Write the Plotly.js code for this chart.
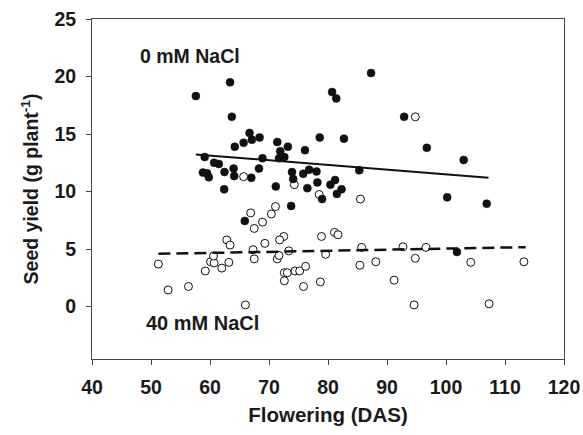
<!DOCTYPE html>
<html>
<head>
<meta charset="utf-8">
<script src="https://cdn.plot.ly/plotly-3.0.1.min.js"></script>
<style>html,body{margin:0;padding:0;background:#fff;}#chart{width:583px;height:435px;}</style>
</head>
<body>
<div id="chart"></div>
<script>
// 0 mM NaCl (filled circles)
const ctrlDAS = [57.6,63.4,63.7,66.7,65.7,67.1,64.2,68.4,59.1,60.7,61.5,64.0,68.3,58.8,59.5,59.8,62.45,64.1,67.0,62.4,
  87.3,80.7,81.4,92.9,71.4,73.2,71.9,76.1,78.6,82.7,68.9,71.7,72.6,73.9,74.1,75.8,76.8,78.05,85.3,71.15,
  76.5,78.2,80.4,81.2,81.5,82.3,79.0,73.75,96.75,103.0,100.2,106.9,65.9,101.85];
const ctrlYield = [18.3,19.5,16.5,15.1,14.25,14.5,13.9,14.7,13.0,12.5,12.4,12.0,12.0,11.65,11.6,11.25,11.7,11.35,11.2,10.2,
  20.3,18.65,18.1,16.5,14.3,13.9,13.5,13.6,14.7,14.6,12.9,12.9,13.0,11.7,11.1,11.55,11.9,11.75,11.85,10.45,
  10.3,10.8,10.6,11.0,9.8,10.2,9.35,8.75,13.8,12.75,9.5,8.95,7.45,4.75];

// 40 mM NaCl (open circles)
const saltDAS = [65.7,94.8,74.3,78.5,85.5,71.1,51.25,52.9,56.35,59.2,60.1,60.7,60.6,62.0,63.2,62.85,63.4,66.0,66.9,67.5,
  67.3,67.5,70.4,68.9,72.5,71.8,69.3,78.9,81.1,81.7,71.4,71.7,73.35,79.6,85.7,85.4,88.1,92.7,94.8,72.6,
  73.1,74.4,75.2,76.2,72.6,75.85,78.7,91.2,94.6,96.6,104.2,113.2,107.3];
const saltYield = [11.3,16.5,10.6,9.75,9.35,8.7,3.7,1.45,1.75,3.1,3.9,3.8,4.4,3.35,3.85,5.8,5.35,0.15,8.15,6.8,
  4.95,4.15,8.05,7.35,6.1,5.8,5.5,6.1,6.45,6.25,4.15,4.45,4.85,4.55,5.15,3.6,3.9,5.2,4.2,2.95,
  2.95,3.1,3.1,3.5,2.25,1.75,2.15,2.3,0.15,5.15,3.85,3.9,0.25];

// Regression lines (endpoints)
const ctrlFitX = [57.6, 107.2];
const ctrlFitY = [13.23, 11.2];
const saltFitX = [51.25, 113.5];
const saltFitY = [4.59, 5.17];

const xTicks = [40,50,60,70,80,90,100,110,120];
const yTicks = [0,5,10,15,20,25];

const txt = '#1a1a1a';
const axisCol = '#444';
const fnt = 'Liberation Sans, Arial, sans-serif';

const traces = [
  {x: saltDAS, y: saltYield, type: 'scatter', mode: 'markers',
   marker: {symbol: 'circle', size: 8, color: '#ffffff', line: {color: '#111', width: 1}}, hoverinfo: 'skip'},
  {x: ctrlDAS, y: ctrlYield, type: 'scatter', mode: 'markers',
   marker: {symbol: 'circle', size: 8, color: '#111', line: {color: '#111', width: 0.5}}, hoverinfo: 'skip'},
  {x: ctrlFitX, y: ctrlFitY, type: 'scatter', mode: 'lines',
   line: {color: '#111', width: 2}, hoverinfo: 'skip'},
  {x: saltFitX, y: saltFitY, type: 'scatter', mode: 'lines',
   line: {color: '#111', width: 2.5, dash: '12px,6px'}, hoverinfo: 'skip'}
];

const layout = {
  width: 583, height: 435,
  margin: {l: 92, r: 19, t: 19, b: 76},
  paper_bgcolor: '#fff', plot_bgcolor: '#fff',
  showlegend: false,
  font: {family: fnt, color: txt},
  xaxis: {
    range: [40, 120], tickvals: xTicks, ticktext: xTicks.map(v => '<b>' + v + '</b>'),
    ticks: 'outside', ticklen: 5, tickwidth: 1, tickcolor: axisCol,
    showline: true, linecolor: axisCol, linewidth: 1, mirror: true,
    showgrid: false, zeroline: false,
    tickfont: {family: fnt, size: 19.5, color: txt},
    ticklabelstandoff: 6,
    title: {text: '<b>Flowering (DAS)</b>', font: {family: fnt, size: 20.5, color: txt}, standoff: 10}
  },
  yaxis: {
    range: [-4.55, 25], tickvals: yTicks, ticktext: yTicks.map(v => '<b>' + v + '</b>'),
    ticks: 'outside', ticklen: 5, tickwidth: 1, tickcolor: axisCol,
    showline: true, linecolor: axisCol, linewidth: 1, mirror: true,
    showgrid: false, zeroline: false,
    tickfont: {family: fnt, size: 19.5, color: txt},
    ticklabelstandoff: 6,
    title: {text: '<b>Seed yield (g plant<sup>-1</sup>)</b>', font: {family: fnt, size: 19.5, color: txt}, standoff: 10}
  },
  annotations: [
    {text: '<b>0 mM NaCl</b>', x: 56.6, y: 21.8, xref: 'x', yref: 'y', showarrow: false,
     font: {family: fnt, size: 19.5, color: txt}},
    {text: '<b>40 mM NaCl</b>', x: 58.7, y: -1.4, xref: 'x', yref: 'y', showarrow: false,
     font: {family: fnt, size: 20, color: txt}}
  ]
};

Plotly.newPlot('chart', traces, layout, {displayModeBar: false, staticPlot: true});
</script>
</body>
</html>
